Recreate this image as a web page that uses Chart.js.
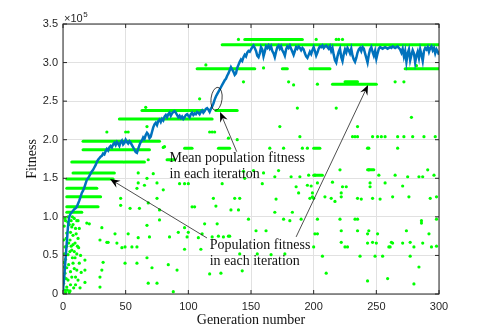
<!DOCTYPE html>
<html>
<head>
<meta charset="utf-8">
<script src="https://cdn.jsdelivr.net/npm/chart.js@4.4.1/dist/chart.umd.min.js"></script>
<style>
  html, body { margin: 0; padding: 0; background: #fff; }
  #wrap { width: 485px; height: 330px; }
</style>
</head>
<body>
<div id="wrap"><canvas id="fitChart" width="485" height="330"></canvas></div>
<script>
// fitness values are in units of 1e5 (the axis carries the x10^5 factor)
const genTicks = [0, 50, 100, 150, 200, 250, 300];
const fitTicks = [0, 0.5, 1, 1.5, 2, 2.5, 3, 3.5];

// mean population fitness, one value per generation 0..300
const meanFitness = [
  0.05, 0.22, 0.45, 0.66, 0.88, 1.00, 1.04, 1.06, 1.08, 1.10,
  1.11, 1.13, 1.17, 1.21, 1.26, 1.31, 1.34, 1.38, 1.43, 1.48,
  1.50, 1.53, 1.56, 1.59, 1.61, 1.64, 1.67, 1.71, 1.74, 1.76,
  1.78, 1.79, 1.82, 1.81, 1.85, 1.88, 1.86, 1.90, 1.92, 1.90,
  1.94, 1.96, 1.93, 1.97, 1.95, 1.92, 1.97, 1.99, 1.94, 1.96,
  2.00, 1.97, 1.95, 1.98, 1.96, 1.93, 1.90, 1.87, 1.84, 1.83,
  1.88, 1.93, 1.97, 1.99, 2.03, 2.01, 2.06, 2.09, 2.07, 2.02,
  2.04, 2.10, 2.16, 2.20, 2.22, 2.19, 2.24, 2.26, 2.23, 2.27,
  2.25, 2.30, 2.32, 2.29, 2.33, 2.35, 2.31, 2.34, 2.36, 2.37,
  2.35, 2.32, 2.29, 2.31, 2.28, 2.30, 2.27, 2.29, 2.32, 2.33,
  2.31, 2.29, 2.33, 2.35, 2.32, 2.34, 2.33, 2.36, 2.35, 2.33,
  2.36, 2.38, 2.35, 2.37, 2.40, 2.41, 2.39, 2.36, 2.40, 2.43,
  2.47, 2.52, 2.56, 2.59, 2.62, 2.65, 2.68, 2.71, 2.74, 2.77,
  2.79, 2.83, 2.86, 2.90, 2.94, 2.91, 2.88, 2.84, 2.86, 2.93,
  2.97, 3.01, 3.04, 3.02, 3.07, 3.10, 3.08, 3.13, 3.15, 3.14,
  3.17, 3.20, 3.22, 3.19, 3.15, 3.09, 3.07, 3.12, 3.20, 3.17,
  3.08, 3.14, 3.21, 3.19, 3.22, 3.18, 3.21, 3.15, 3.12, 3.07,
  3.14, 3.20, 3.22, 3.18, 3.21, 3.16, 3.13, 3.09, 3.17, 3.21,
  3.19, 3.22, 3.18, 3.14, 3.10, 3.15, 3.20, 3.18, 3.21, 3.19,
  3.16, 3.19, 3.17, 3.12, 3.08, 3.06, 3.10, 3.14, 3.11, 3.16,
  3.20, 3.15, 3.09, 3.13, 3.18, 3.21, 3.20, 3.22, 3.19, 3.21,
  3.22, 3.20, 3.18, 3.21, 3.15, 3.19, 3.10, 3.03, 3.00, 3.08,
  3.14, 3.18, 3.07, 3.02, 3.11, 3.17, 3.13, 3.19, 3.16, 3.12,
  3.18, 3.09, 3.04, 3.01, 3.06, 3.13, 3.17, 3.19, 3.15, 3.20,
  3.18, 3.12, 3.06, 3.00, 3.10, 3.17, 3.20, 3.14, 3.09, 3.15,
  3.05, 3.12, 3.18, 3.20, 3.19, 3.18, 3.19, 3.20, 3.19, 3.18,
  3.19, 3.20, 3.19, 3.21, 3.20, 3.19, 3.20, 3.21, 3.19, 3.17,
  3.13, 3.18, 3.08, 3.15, 3.01, 3.12, 3.17, 3.03, 3.10, 3.16,
  3.12, 3.00, 3.09, 3.14, 3.06, 3.17, 3.10, 3.02, 3.15, 3.19,
  3.17, 3.20, 3.14, 3.19, 3.21, 3.16, 3.19, 3.12, 3.17, 3.14,
  3.10
];

// individuals that keep the same fitness over a run of generations: [from, to, fitness]
const eliteRuns = [
  [127, 300, 3.23], [145, 191, 3.30],
  [107, 153, 2.92], [175, 179, 2.92], [197, 213, 2.92], [273, 300, 2.92],
  [215, 250, 2.72], [225, 235, 2.75],
  [63, 112, 2.38], [122, 139, 2.38], [45, 119, 2.27],
  [16, 77, 1.98], [16, 69, 1.87], [97, 103, 1.89], [124, 133, 1.89], [200, 205, 1.89],
  [7, 48, 1.71], [49, 65, 1.71], [83, 89, 1.74],
  [8, 41, 1.57], [3, 40, 1.49], [3, 27, 1.37], [3, 30, 1.26], [3, 28, 1.13], [3, 15, 1.06],
  [243, 248, 1.61], [200, 207, 1.54]
];

// other individuals: [generation, fitness]
const popPoints = [
  [1.6, 0.98], [4, 0.93], [7, 0.87], [3, 0.79], [8, 0.76], [5.6, 0.70], [9.6, 0.66], [1.6, 0.61],
  [7, 0.57], [4, 0.51], [9.6, 0.47], [0.5, 0.41], [8, 0.40], [3, 0.34], [11, 0.31], [1.6, 0.27],
  [7, 0.22], [4, 0.18], [0.5, 0.14], [3, 0.09], [1.6, 0.05], [5.6, 0.04], [2, 0.02], [6, 0.12],
  [10, 0.85], [11, 0.95], [12, 0.72], [9, 0.55], [2, 0.45], [6, 0.29], [10, 0.22], [12, 0.95],
  [5, 0.90], [3, 0.62], [8, 0.64], [11, 0.52], [19, 0.92], [17.5, 0.44], [13.6, 0.08], [17.5, 0.31],
  [1, 0.88], [2.5, 0.72], [4.5, 0.66], [6.5, 0.95], [9, 0.98], [10.5, 0.78], [12.5, 0.60], [13, 0.85],
  [1, 0.35], [2.5, 0.20], [4.5, 0.38], [5.5, 0.55], [7.5, 0.47], [9, 0.33], [0.5, 0.70], [1.2, 0.52],
  [3.5, 0.05], [5, 0.02], [8.5, 0.08], [14, 0.50], [14.5, 0.28], [13, 0.40], [6, 0.80], [2, 0.95],
  [0.8, 0.22], [11.5, 0.62], [4, 1.00], [7.5, 1.00], [10, 0.12], [12, 0.18], [6.5, 0.62], [8, 0.90],
  [17.5, 0.15], [29.5, 0.22], [31, 0.31], [32, 0.41], [29.5, 0.09], [35, 0.67], [21, 0.91], [31, 0.86],
  [49.5, 0.40], [47, 0.60], [59, 0.40], [67, 0.47], [71, 0.34], [68, 0.14], [75, 0.14], [88, 0.03],
  [84, 0.38], [91, 0.31], [29.5, 0.70], [36, 0.67], [43, 0.66], [49.5, 0.61], [55, 0.61], [59, 0.61],
  [41.5, 0.78], [52, 0.78], [60, 0.73], [69, 0.74], [77, 0.96], [85, 0.74], [92, 0.80], [97, 0.86],
  [99, 0.74], [67, 0.89], [46, 1.15], [53.5, 1.11], [61, 1.11], [77, 1.09], [46, 1.24], [68, 1.18],
  [75, 1.24], [59, 1.37], [65, 1.41], [75, 1.44], [60, 1.44], [60, 1.57], [72, 1.56], [80, 1.35],
  [67, 1.50], [68, 1.74],
  [97, 1.43], [127, 1.43], [159, 1.43], [169, 1.52], [182, 1.52], [189, 1.52], [196, 1.54], [186, 1.39],
  [188, 1.31], [199, 1.31], [120, 1.24], [137, 1.24], [141, 1.24], [170, 1.23], [103, 1.13], [105, 1.13],
  [122, 1.14], [134, 1.09], [140, 1.09], [169, 1.06], [183, 1.06], [148, 0.97], [176, 0.97], [181, 0.95],
  [190, 0.97], [113, 0.91], [123, 0.91], [154, 0.82], [162, 0.82], [100, 0.80], [108, 0.73], [111, 0.78],
  [119, 0.74], [124, 0.75], [128, 0.74], [132, 0.75], [133, 0.75], [97, 0.58], [110, 0.58], [141, 0.52],
  [155, 0.52], [166, 0.51], [177, 0.52], [117, 0.26], [126, 0.27], [143, 0.30], [144, 1.59], [152, 1.60],
  [160, 1.57], [172, 1.60], [145, 1.50], [93, 1.43], [100, 1.43], [195, 1.41], [199, 1.26], [209, 1.26],
  [201, 1.54], [221, 1.61], [244, 1.61], [252, 1.54], [265, 1.54], [275, 1.52], [284, 1.52], [287, 1.52],
  [291, 1.61], [296, 1.54], [198, 1.40], [203, 1.44], [215, 1.45], [223, 1.39], [226, 1.39], [245, 1.44],
  [245, 1.39], [257, 1.44], [271, 1.40], [197, 1.24], [200, 1.24], [214, 1.24], [217, 1.20],
  [222, 1.31], [222, 1.26], [235, 1.24], [238, 1.23], [247, 1.24], [253, 1.23], [263, 1.26], [276, 1.26],
  [293, 1.24], [298, 1.26], [203, 0.97], [221, 0.97], [233, 0.97], [235, 0.97], [286, 0.95], [286, 0.92],
  [298, 0.97], [201, 0.78], [203, 0.78], [222, 0.82], [235, 0.82], [243, 0.78], [244, 0.82], [251, 0.78],
  [274, 0.82], [292, 0.78], [200, 0.61], [222, 0.67], [225, 0.61], [227, 0.61], [243, 0.66], [247, 0.67],
  [250, 0.66], [260, 0.61], [261, 0.61], [262, 0.67], [263, 0.66], [271, 0.66], [277, 0.67], [280, 0.61],
  [287, 0.66], [294, 0.61], [298, 0.62], [207, 0.49], [237, 0.49], [249, 0.49], [255, 0.49], [277, 0.49],
  [284, 0.35], [210, 0.27], [259, 0.20], [243, 0.17], [280, 0.13],
  [66, 2.42], [35, 2.10], [80, 1.90], [50, 2.10], [52, 2.10], [67, 2.17], [140, 3.30], [114, 2.97],
  [160, 2.93], [180, 2.75], [184, 2.71], [144, 2.75], [109, 2.53], [187, 2.41], [173, 2.17], [189, 2.04],
  [132, 2.02], [117, 2.10], [119, 2.10], [121, 2.10], [139, 2.00], [81, 1.91], [165, 1.89], [176, 1.89],
  [191, 1.89], [195, 1.89], [202, 3.30], [218, 3.30], [220, 3.30], [223, 3.30], [203, 2.72], [265, 2.75],
  [272, 2.75], [218, 2.41], [278, 2.29], [235, 2.17], [231, 2.04], [233, 2.04], [235, 2.04], [247, 2.04],
  [251, 2.04], [254, 2.04], [257, 2.04], [267, 2.04], [272, 2.04], [279, 2.04], [288, 2.04], [297, 2.04],
  [243, 1.89], [244, 1.89], [267, 1.89], [282, 2.96]
];

// annotations, anchored in data coordinates
const meanNote = { lines: ['Mean population fitness', 'in each iteration'], gen: 85, fit: 1.76 };
const popNote = { lines: ['Population fitness', 'in each iteration'], gen: 117, fit: 0.635 };
const arrows = [
  { from: [138.6, 1.845], to: [125.3, 2.36] },
  { from: [114.9, 0.726], to: [37.5, 1.49] },
  { from: [186, 0.74], to: [243.4, 2.71] }
];
const ellipse = { gen: 122.5, fit: 2.53, rGen: 4.4, rFit: 0.15 };

const serif = '"Liberation Serif", "Times New Roman", serif';
const sans = '"Liberation Sans", Arial, sans-serif';
const axisColor = '#262626';

function drawArrow(ctx, x1, y1, x2, y2) {
  const ang = Math.atan2(y2 - y1, x2 - x1);
  const len = 10, half = 4;
  ctx.strokeStyle = '#222';
  ctx.lineWidth = 0.8;
  ctx.beginPath();
  ctx.moveTo(x1, y1);
  ctx.lineTo(x2 - Math.cos(ang) * 6, y2 - Math.sin(ang) * 6);
  ctx.stroke();
  ctx.fillStyle = '#000';
  ctx.save();
  ctx.translate(x2, y2);
  ctx.rotate(ang);
  ctx.beginPath();
  ctx.moveTo(0, 0);
  ctx.lineTo(-len, -half);
  ctx.lineTo(-len * 0.65, 0);
  ctx.lineTo(-len, half);
  ctx.closePath();
  ctx.fill();
  ctx.restore();
}

const matlabLook = {
  id: 'matlabLook',
  beforeDraw(chart) {
    const ctx = chart.ctx;
    ctx.save();
    ctx.fillStyle = '#fff';
    ctx.fillRect(0, 0, chart.width, chart.height);
    ctx.restore();
  },
  afterDatasetsDraw(chart) {
    const { ctx, chartArea: a, scales: { x, y } } = chart;
    ctx.save();
    // box and inward ticks
    ctx.strokeStyle = axisColor;
    ctx.lineWidth = 1;
    ctx.strokeRect(a.left, a.top, a.right - a.left, a.bottom - a.top);
    ctx.beginPath();
    genTicks.forEach(v => {
      const px = x.getPixelForValue(v);
      ctx.moveTo(px, a.bottom); ctx.lineTo(px, a.bottom - 4);
      ctx.moveTo(px, a.top); ctx.lineTo(px, a.top + 4);
    });
    fitTicks.forEach(v => {
      const py = y.getPixelForValue(v);
      ctx.moveTo(a.left, py); ctx.lineTo(a.left + 4, py);
      ctx.moveTo(a.right, py); ctx.lineTo(a.right - 4, py);
    });
    ctx.stroke();

    // exponent label
    ctx.fillStyle = axisColor;
    ctx.textBaseline = 'alphabetic';
    ctx.textAlign = 'left';
    ctx.font = '11px ' + sans;
    ctx.fillText('\u00d710', a.left + 1, a.top - 2);
    const w = ctx.measureText('\u00d710').width;
    ctx.font = '8px ' + sans;
    ctx.fillText('5', a.left + 1 + w + 0.5, a.top - 7);

    // axis titles
    ctx.fillStyle = '#111';
    ctx.font = '14px ' + serif;
    ctx.textAlign = 'center';
    ctx.textBaseline = 'middle';
    ctx.fillText('Generation number', (a.left + a.right) / 2, 320);
    ctx.save();
    ctx.translate(32, (a.top + a.bottom) / 2);
    ctx.rotate(-Math.PI / 2);
    ctx.fillText('Fitness', 0, 0);
    ctx.restore();

    // ellipse
    const ex = x.getPixelForValue(ellipse.gen), ey = y.getPixelForValue(ellipse.fit);
    const rx = Math.abs(x.getPixelForValue(ellipse.gen + ellipse.rGen) - ex);
    const ry = Math.abs(y.getPixelForValue(ellipse.fit + ellipse.rFit) - ey);
    ctx.strokeStyle = '#111';
    ctx.lineWidth = 0.8;
    ctx.beginPath();
    ctx.ellipse(ex, ey, rx, ry, 0.12, 0, Math.PI * 2);
    ctx.stroke();

    // arrows
    arrows.forEach(ar => {
      drawArrow(ctx,
        x.getPixelForValue(ar.from[0]), y.getPixelForValue(ar.from[1]),
        x.getPixelForValue(ar.to[0]), y.getPixelForValue(ar.to[1]));
    });

    // text notes
    ctx.fillStyle = '#111';
    ctx.font = '14px ' + serif;
    ctx.textAlign = 'left';
    ctx.textBaseline = 'middle';
    [meanNote, popNote].forEach(n => {
      const nx = x.getPixelForValue(n.gen), ny = y.getPixelForValue(n.fit);
      n.lines.forEach((t, i) => ctx.fillText(t, nx, ny + i * 16));
    });
    ctx.restore();
  }
};

const datasets = [];
datasets.push({
  label: 'Mean population fitness',
  data: meanFitness.map((v, i) => ({ x: i, y: v })),
  showLine: true,
  borderColor: '#0072BD',
  borderWidth: 2.5,
  pointRadius: 0,
  tension: 0,
  order: 0
});
eliteRuns.forEach(r => {
  datasets.push({
    data: [{ x: r[0], y: r[2] }, { x: r[1], y: r[2] }],
    showLine: true,
    borderColor: '#00ff00',
    borderWidth: 3,
    borderCapStyle: 'round',
    pointRadius: 0,
    order: 1
  });
});
datasets.push({
  label: 'Population fitness',
  data: popPoints.map(p => ({ x: p[0], y: p[1] })),
  backgroundColor: '#00ff00',
  borderWidth: 0,
  pointRadius: 1.6,
  order: 2
});

const ctx = document.getElementById('fitChart').getContext('2d');
const fitChart = new Chart(ctx, {
  type: 'scatter',
  data: { datasets: datasets },
  options: {
    responsive: false,
    animation: false,
    devicePixelRatio: 1,
    layout: { padding: { top: 24, right: 46, left: 0, bottom: 0 } },
    plugins: { legend: { display: false }, tooltip: { enabled: false } },
    scales: {
      x: {
        type: 'linear', min: 0, max: 300,
        afterBuildTicks: s => { s.ticks = genTicks.map(v => ({ value: v })); },
        afterFit: s => { s.height = 36; },
        grid: { color: '#e1e1e1', drawTicks: false },
        border: { display: false },
        ticks: { font: { family: sans, size: 11 }, color: axisColor, padding: 6, maxRotation: 0 }
      },
      y: {
        type: 'linear', min: 0, max: 3.5,
        afterBuildTicks: s => { s.ticks = fitTicks.map(v => ({ value: v })); },
        afterFit: s => { s.width = 63; },
        grid: { color: '#e1e1e1', drawTicks: false },
        border: { display: false },
        ticks: { font: { family: sans, size: 11 }, color: axisColor, padding: 5 }
      }
    }
  },
  plugins: [matlabLook]
});
</script>
</body>
</html>
